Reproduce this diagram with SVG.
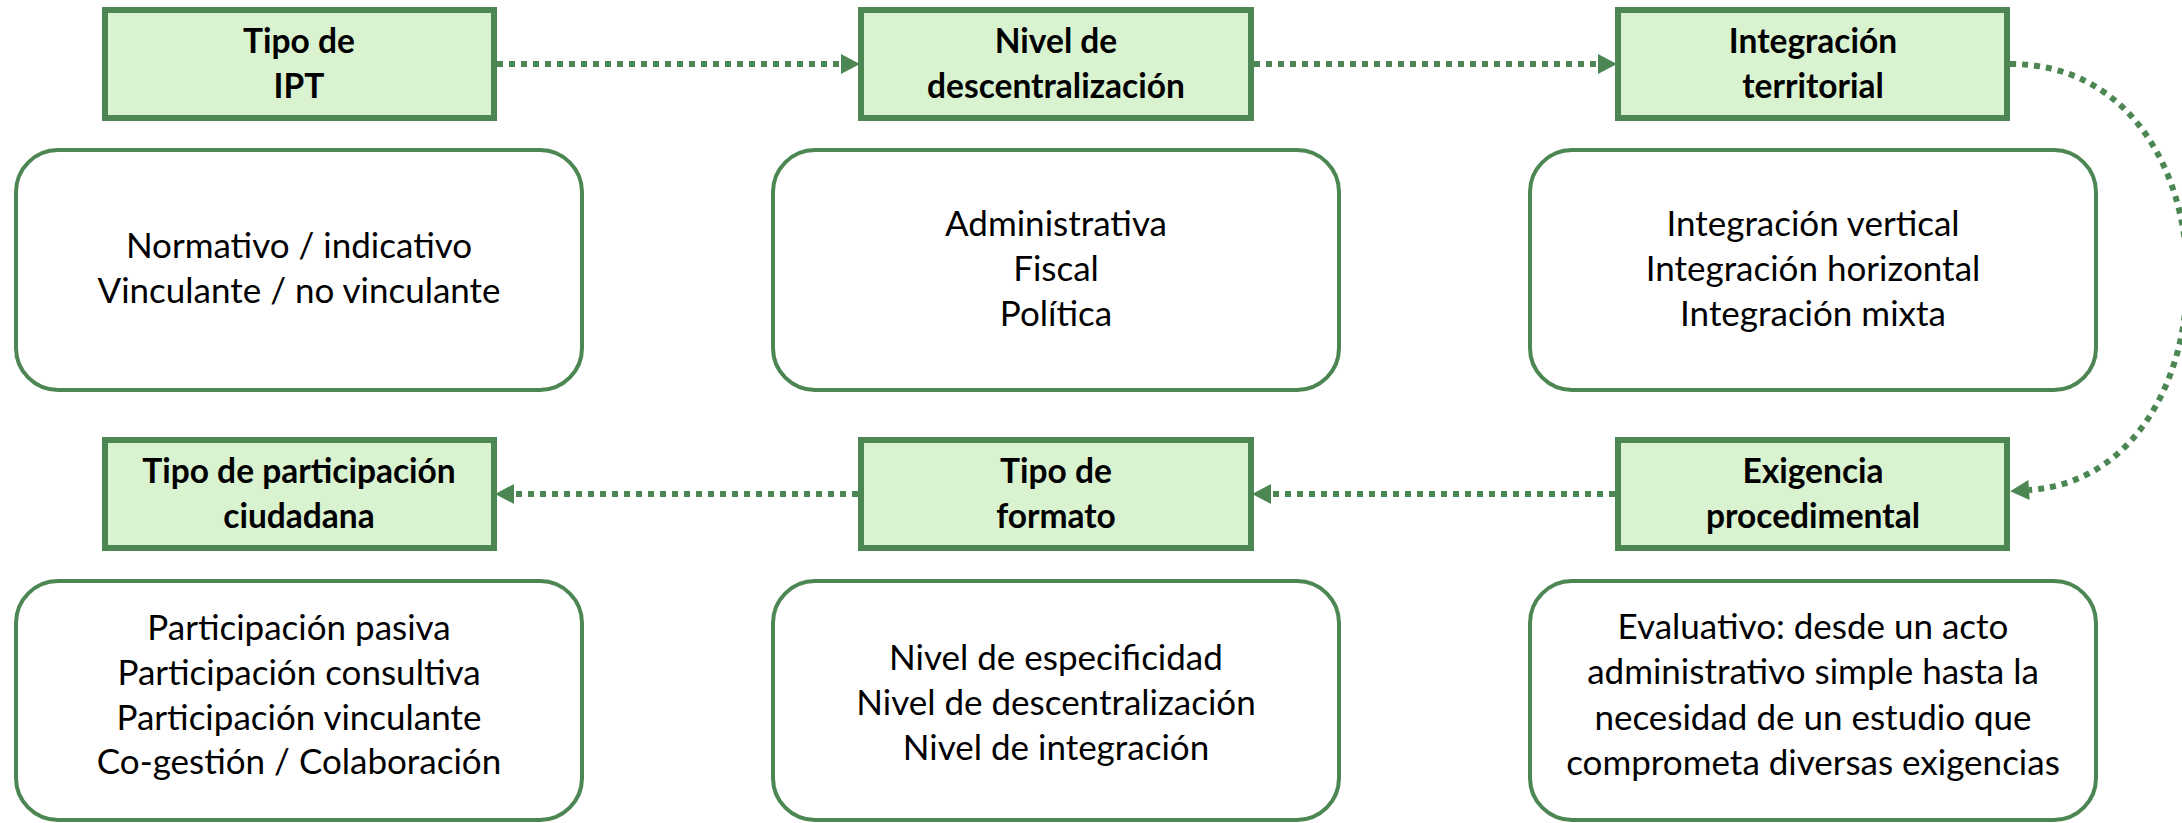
<svg xmlns="http://www.w3.org/2000/svg" width="2182" height="823" viewBox="0 0 2182 823">
<style>
.hdr{fill:#d9f2d0;stroke:#4c8653;stroke-width:6}
.box{fill:#ffffff;stroke:#4c8653;stroke-width:4}
.ht{font-family:Lato,"Liberation Sans",sans-serif;font-weight:bold;font-size:33.5px;fill:#000;text-anchor:middle}
.bt{font-family:Lato,"Liberation Sans",sans-serif;font-size:35px;fill:#000;text-anchor:middle}
.con{fill:none;stroke:#4c8653;stroke-width:6;stroke-dasharray:6 6}
</style>
<defs>
<marker id="arr" markerUnits="userSpaceOnUse" markerWidth="20" markerHeight="20" refX="0" refY="9" orient="auto" viewBox="0 0 17 18">
<path d="M0,0 L17,9 L0,18 Z" fill="#4c8653"/>
</marker>
</defs>
<g id="connectors">
<path class="con" d="M497,64 L841,64" marker-end="url(#arr)"/>
<path class="con" d="M1254,64 L1598,64" marker-end="url(#arr)"/>
<path class="con" d="M2010,64 C2244,64 2242,476 2029,490" marker-end="url(#arr)"/>
<path class="con" d="M1615,494 L1271,494" marker-end="url(#arr)"/>
<path class="con" d="M858,494 L514,494" marker-end="url(#arr)"/>
</g>
<g id="h-tipo-ipt">
<rect class="hdr" x="105" y="10" width="389" height="108"/>
<text class="ht" x="299" y="53">Tipo de</text>
<text class="ht" x="299" y="98">IPT</text>
</g>
<g id="b-tipo-ipt">
<rect class="box" x="16" y="150" width="566" height="240" rx="42" ry="42"/>
<text class="bt" x="299" y="258">Normativo / indicativo</text>
<text class="bt" x="299" y="303">Vinculante / no vinculante</text>
</g>
<g id="h-nivel">
<rect class="hdr" x="861" y="10" width="390" height="108"/>
<text class="ht" x="1056" y="53">Nivel de</text>
<text class="ht" x="1056" y="98">descentralización</text>
</g>
<g id="b-nivel">
<rect class="box" x="773" y="150" width="566" height="240" rx="42" ry="42"/>
<text class="bt" x="1056" y="236">Administrativa</text>
<text class="bt" x="1056" y="281">Fiscal</text>
<text class="bt" x="1056" y="326">Política</text>
</g>
<g id="h-integracion">
<rect class="hdr" x="1618" y="10" width="389" height="108"/>
<text class="ht" x="1813" y="53">Integración</text>
<text class="ht" x="1813" y="98">territorial</text>
</g>
<g id="b-integracion">
<rect class="box" x="1530" y="150" width="566" height="240" rx="42" ry="42"/>
<text class="bt" x="1813" y="236">Integración vertical</text>
<text class="bt" x="1813" y="281">Integración horizontal</text>
<text class="bt" x="1813" y="326">Integración mixta</text>
</g>
<g id="h-participacion">
<rect class="hdr" x="105" y="440" width="389" height="108"/>
<text class="ht" x="299" y="483">Tipo de participación</text>
<text class="ht" x="299" y="528">ciudadana</text>
</g>
<g id="b-participacion">
<rect class="box" x="16" y="581" width="566" height="239" rx="42" ry="42"/>
<text class="bt" x="299" y="640">Participación pasiva</text>
<text class="bt" x="299" y="685">Participación consultiva</text>
<text class="bt" x="299" y="730">Participación vinculante</text>
<text class="bt" x="299" y="774">Co-gestión / Colaboración</text>
</g>
<g id="h-formato">
<rect class="hdr" x="861" y="440" width="390" height="108"/>
<text class="ht" x="1056" y="483">Tipo de</text>
<text class="ht" x="1056" y="528">formato</text>
</g>
<g id="b-formato">
<rect class="box" x="773" y="581" width="566" height="239" rx="42" ry="42"/>
<text class="bt" x="1056" y="670">Nivel de especificidad</text>
<text class="bt" x="1056" y="715">Nivel de descentralización</text>
<text class="bt" x="1056" y="760">Nivel de integración</text>
</g>
<g id="h-exigencia">
<rect class="hdr" x="1618" y="440" width="389" height="108"/>
<text class="ht" x="1813" y="483">Exigencia</text>
<text class="ht" x="1813" y="528">procedimental</text>
</g>
<g id="b-exigencia">
<rect class="box" x="1530" y="581" width="566" height="239" rx="42" ry="42"/>
<text class="bt" x="1813" y="639">Evaluativo: desde un acto</text>
<text class="bt" x="1813" y="684">administrativo simple hasta la</text>
<text class="bt" x="1813" y="730">necesidad de un estudio que</text>
<text class="bt" x="1813" y="775">comprometa diversas exigencias</text>
</g>
</svg>
